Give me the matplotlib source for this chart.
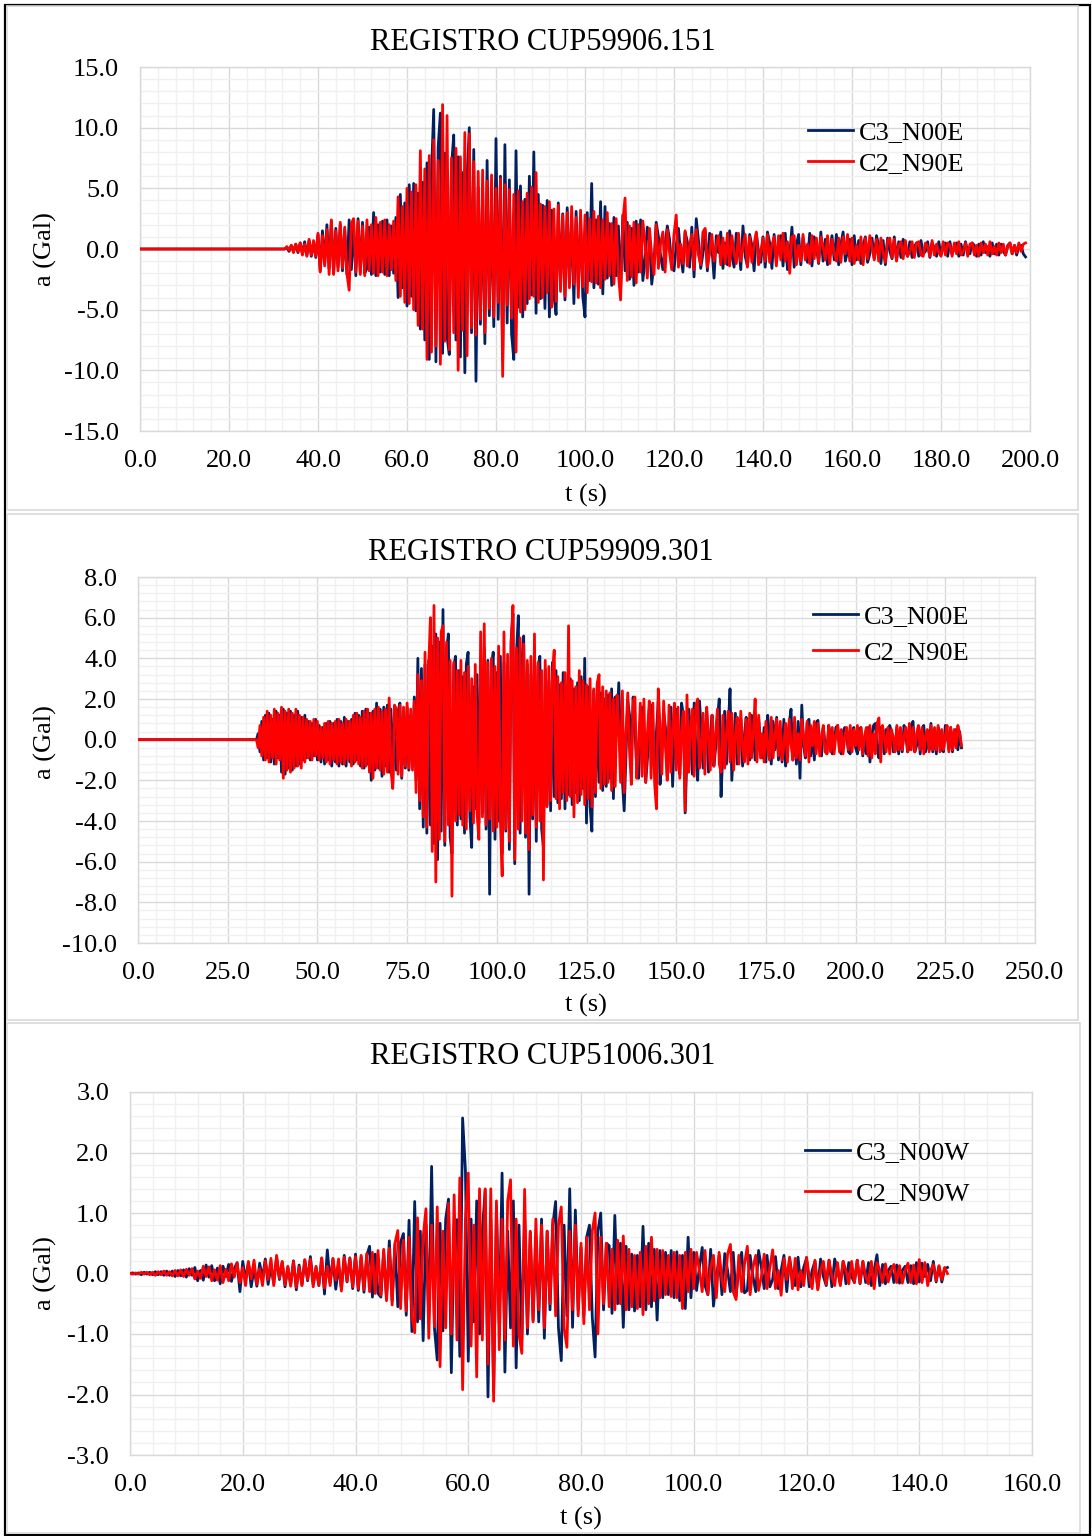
import numpy as np
import matplotlib
matplotlib.use("Agg")
import matplotlib.pyplot as plt
from matplotlib.patches import Rectangle
from matplotlib.ticker import MultipleLocator, FormatStrFormatter

plt.rcParams['font.family'] = ['Liberation Serif', 'DejaVu Serif']
plt.rcParams['axes.unicode_minus'] = False

# Sampling step of the digitised accelerograms (s)
DT = 0.5

# ---------------- Record CUP59906.151 (0 .. 199 s) ----------------
titulo_1 = "REGISTRO CUP59906.151"
nombres_1 = ["C3_N00E", "C2_N90E"]
c3_1 = [0.0] * 66 + [
    0.1, -0.2, 0.3, -0.2, 0.4, -0.3, 0.5, -0.4, 0.6, -0.5, 0.7, -0.6, 0.5, -0.7, 1.2, -1.8, 1.5, -1.2, 2.0, -1.6,
    2.3, -2.0, 1.7, -1.5, 2.0, -1.8, 1.6, -2.1, 2.4, -1.7, 1.9, -2.2, 2.5, -1.9, 2.2, -2.0, -1.6, 1.8, -2.1, 3.0,
    -2.2, 2.0, -1.9, 2.3, -2.1, 2.4, -2.2, 1.9, -2.0, 2.6, -4.0, 4.5, -3.2, 3.8, -4.7, 5.3, -3.9, 5.4, -5.1, 4.6,
    -6.6, 5.5, -7.5, 7.1, -9.1, 6.2, 11.5, -9.3, 8.4, 11.2, -8.6, 7.9, -7.2, -8.7, 6.8, 9.4, -7.5, 7.6, -8.9, 6.3,
    -10.2, 5.8, 10.0, -6.9, 8.2, -10.9, 5.1, -6.2, 4.8, -7.8, 7.3, -5.5, 4.2, -6.4, 9.1, -5.8, 6.0, -9.2, 8.6, -6.1,
    5.7, -7.0, -9.1, 8.1, -4.8, 5.2, -5.6, 4.1, -4.5, 6.0, -3.8, 8.0, -5.3, 4.5, -4.1, 3.6, -4.9, 4.0, -5.6, 3.2,
    -3.8, -5.4, 3.8, -3.1, 2.9, -4.2, 3.4, -2.8, 2.6, -4.5, 3.1, -3.3, 2.7, -3.9, -5.6, 3.0, -2.6, 5.4, -3.2, 2.4,
    -2.9, 3.9, -3.7, 3.5, -2.4, 2.1, -3.0, 2.6, -2.2, 1.9, -3.4, 2.8, -1.8, 2.2, -2.5, 1.7, -3.0, 2.3, -1.9, 2.4,
    -2.6, -0.8, 1.8, 0.6, -2.9, -1.1, 2.2, 1.0, -0.6, -1.7, 0.4, 1.9, 0.8, -1.5, -1.8, 0.3, 1.7, -0.5, -1.9, 1.4,
    0.6, -1.5, 1.8, -2.3, 2.5, 0.7, -1.6, -0.4, 1.5, -1.8, 1.3, 0.2, -2.4, 1.1, -0.3, 1.4, -1.6, 0.5, -1.3, 1.5,
    -0.5, -1.5, 1.3, 0.4, -1.7, 1.9, -0.6, -1.4, 1.2, 0.3, -1.8, 1.3, -0.2, -1.1, 1.0, -1.5, 1.4, 0.5, -1.6, 1.2,
    -1.0, 0.4, 1.1, -1.4, 1.3, -1.7, -0.5, 1.8, -1.5, 0.3, 1.2, -1.3, 0.9, -0.2, -1.1, 1.3, -1.4, 1.0, 0.2, -1.2,
    1.4, -1.0, 0.8, -1.3, -0.3, 1.1, -0.9, 1.2, -1.3, 0.4, 1.4, -1.0, -0.2, 0.8, -1.3, 1.1, -0.9, 0.7, -1.2, 0.3,
    1.0, -1.1, -0.4, 0.9, -0.8, 1.1, 0.3, -1.2, 0.7, -1.3, 0.9, -0.2, -0.8, 1.0, -0.9, 0.6, -0.7, 0.8, -0.2, -0.6,
    0.6, -0.7, 0.2, 0.5, -0.6, 0.7, -0.4, -0.2, 0.6, -0.7, 0.5, 0.1, -0.6, 0.6, -0.5, 0.3, 0.5, -0.6, 0.6, -0.4,
    0.1, 0.5, -0.6, 0.4, -0.5, 0.6, -0.2, -0.4, 0.5, 0.3, -0.6, 0.4, -0.5, 0.6, -0.3, 0.2, -0.6, 0.5, -0.4, 0.4,
    -0.5, 0.4, -0.2, -0.5, 0.3, 0.5, -0.4, 0.3, -0.5, 0.2, 0.3, -0.4, -0.65,
]
c2_1 = [0.0] * 66 + [
    0.2, -0.1, 0.3, -0.3, 0.4, -0.2, 0.5, -0.5, 0.4, -0.6, 0.8, -0.5, 0.7, -0.6, 1.3, -1.9, 1.1, -1.4, 1.6, -2.1,
    2.4, -2.1, 1.5, -1.8, 2.2, -1.6, 1.8, -2.0, -3.4, 2.1, 2.5, -1.9, 2.3, -2.1, 1.9, -2.2, 2.4, -1.8, 2.0, -2.0,
    2.6, -2.2, 2.2, -1.9, 2.4, -2.2, 2.0, -1.7, 2.3, -2.6, 4.3, -3.9, 3.5, -4.4, 5.0, -4.5, 4.7, -5.0, 5.3, -6.3,
    8.1, -6.6, 6.6, -9.1, 7.7, -8.5, 9.0, -8.0, 7.3, -9.5, 11.9, -7.6, 11.0, -8.3, 7.5, -6.9, 8.3, -10.0, 7.6, -6.7,
    9.6, -8.8, 9.5, -6.5, 7.2, -7.1, 6.4, -5.8, 6.5, -6.9, 5.6, -4.9, 6.1, -5.6, 5.0, -4.4, 5.8, -10.5, 5.3, -4.6,
    4.9, -5.7, 4.5, -8.5, 4.8, -5.2, 3.9, -5.0, 4.6, -4.1, 5.1, -3.9, 6.3, -4.4, 3.7, -4.0, 3.5, -3.6, 3.9, -4.8,
    3.3, -4.3, 3.6, -3.5, 2.8, -3.9, 3.0, -3.2, 3.5, -2.9, 2.6, -4.0, 3.2, -3.1, 2.8, -3.6, 2.5, -2.7, 3.1, -2.8,
    2.7, -3.2, 2.4, -2.5, 3.0, -2.2, 2.1, -2.9, 2.5, -2.0, -4.2, 2.3, 4.2, -2.6, 1.9, -2.3, 2.2, -2.8, 2.0, -1.9,
    2.3, 0.4, -2.4, 1.7, -0.6, -2.1, 2.0, -1.6, 0.5, 1.4, -1.9, 1.6, -0.3, -1.7, 1.2, 2.8, -1.5, 0.4, -1.2, 1.5,
    -1.4, 0.3, 1.2, -1.7, 1.6, -0.5, -1.3, 1.4, 1.7, -1.5, -0.4, 1.2, -1.0, 0.3, 1.1, -1.3, 0.9, -1.2, 1.3, -1.4,
    1.1, -0.3, -1.2, 1.3, -1.0, 0.2, 1.2, -1.5, 1.0, -1.1, 0.4, 1.4, -1.3, -0.2, 0.9, -1.0, 1.2, -1.1, 0.3, 1.0,
    -1.4, 1.1, -0.9, 1.3, -1.0, 0.6, -2.0, 1.0, 1.1, -1.3, 0.3, -1.0, 1.2, -0.9, 0.4, -1.2, 1.1, -0.8, 0.9, -1.1,
    1.0, 0.2, -0.9, 1.1, -1.2, 0.8, -0.3, -1.0, 0.9, -1.1, 1.0, -0.4, 1.2, -1.0, 0.9, -1.2, 0.3, -0.9, 1.0, -1.3,
    0.9, -0.8, 1.1, 0.2, -0.9, 0.8, -1.0, 0.9, -0.3, -1.1, 0.7, 0.9, -0.7, 0.8, -1.0, 0.3, 0.6, -0.8, 0.7, -0.6,
    -0.2, 0.6, -0.7, 0.5, 0.6, -0.5, -0.6, 0.5, 0.2, -0.6, 0.7, -0.5, 0.4, -0.3, -0.6, 0.6, -0.5, 0.5, 0.3, -0.6,
    0.5, -0.4, 0.6, -0.5, -0.2, 0.5, -0.6, 0.4, 0.5, -0.5, 0.3, -0.6, 0.5, -0.3, 0.4, -0.5, 0.6, -0.4, 0.2, -0.5,
    0.5, -0.3, 0.4, -0.5, 0.2, 0.5, -0.4, 0.3, -0.3, 0.5, -0.2, 0.4, 0.5,
]

# ---------------- Record CUP59909.301 (0 .. 229.5 s) ----------------
titulo_2 = "REGISTRO CUP59909.301"
nombres_2 = ["C3_N00E", "C2_N90E"]
c3_2 = [0.0] * 66 + [
    0.0, 0.3, -0.6, 0.9, -1.0, 1.2, -0.9, 1.3, -1.1, 1.0, -1.2, 1.4, -0.9, 1.2, -1.6, 1.5, -1.7, 1.3, -1.4, 1.4,
    -1.5, 1.2, -1.3, 1.4, -1.2, 1.1, -1.0, 1.2, -0.9, 0.9, -1.0, 0.8, -0.8, 1.0, -1.0, 0.7, -1.1, 0.6, -1.2, 0.8,
    -1.0, 0.9, -1.3, 0.8, -1.1, 1.0, -1.3, 0.9, -1.2, 1.1, -1.3, 0.9, -1.1, 1.0, -1.2, 1.3, -1.0, 1.2, -1.3, 1.4,
    -1.4, 1.5, -1.2, 1.3, -2.0, 1.4, -1.5, 1.8, -1.4, 1.5, -1.8, 1.6, -1.3, 1.7, -1.6, 1.5, -2.2, 1.6, -1.5, 1.4,
    1.8, -1.9, 1.3, -1.4, 1.6, -1.5, 1.2, -1.3, 2.1, -2.0, 4.0, -3.4, 3.5, -4.3, 3.7, -4.6, 3.9, -4.2, 4.6, -5.1,
    5.2, -5.9, 4.8, -4.5, 6.4, -5.2, 4.4, 5.2, -4.8, -5.6, 3.6, 4.1, -4.2, 3.4, -3.9, 3.1, -4.6, 3.7, 4.3, -3.8,
    -5.3, 2.6, -3.4, 3.2, -4.1, 4.0, -3.6, 4.5, -4.4, 3.9, -7.6, 3.5, 4.3, -4.9, 3.3, -4.0, 4.1, -5.6, 3.8, -4.5,
    3.6, -5.4, 4.9, 6.2, -6.1, 4.3, 6.1, -4.6, 3.9, 5.1, -4.8, 3.7, -7.6, 3.2, -3.9, 4.4, -5.0, 3.6, 4.1, -4.4,
    -5.3, 3.5, -3.2, 2.9, -3.5, 3.8, -2.8, 3.4, -3.1, 2.7, -2.9, 3.3, -3.4, 2.6, -2.7, 3.0, -3.2, 2.5, -2.6, 2.8,
    -3.0, 3.1, -2.4, 4.0, -4.1, 2.6, -3.3, -4.5, 2.4, -2.8, 2.7, -2.1, 2.3, -2.5, 2.0, -2.3, 2.2, -1.9, 2.5, -2.9,
    2.1, 0.6, 2.8, -0.4, -2.0, -3.5, -0.8, 1.9, 1.2, -1.0, 2.1, 0.5, -1.4, -1.9, 0.3, 1.6, -0.2, -2.1, -0.9, 1.5,
    1.7, -0.6, -1.6, 0.4, 1.9, -2.2, -0.7, 1.4, 0.6, -1.8, -0.4, 1.6, -2.3, 0.5, 1.5, -0.9, -1.7, 1.8, 1.2, -3.6,
    -0.8, 1.5, 0.3, -1.7, 1.8, -0.5, -2.0, 1.9, 0.4, -1.4, -0.2, 1.4, -1.6, 0.2, 1.2, -1.3, -0.4, 1.1, 2.0, -2.8,
    -0.6, 1.4, -1.2, 0.5, 2.5, -2.0, -0.3, 1.3, -1.2, 0.4, 1.0, -1.3, 0.2, 1.1, -0.9, -1.0, 1.2, 0.3, -1.0, 0.8,
    1.0, -0.2, -0.9, 0.6, -1.1, 1.2, 0.1, -1.2, 0.9, -0.5, 1.1, -1.0, 0.4, -1.1, 1.0, -1.3, -0.2, 0.8, 1.5, -1.0,
    0.6, -1.2, 0.9, -1.9, 1.7, -0.3, -0.9, 0.8, 1.0, -0.8, 0.3, -1.0, 0.8, 0.95, -0.4, -0.8, 0.6, -0.2, -0.7, 0.7,
    0.2, -0.7, -0.3, 0.6, 0.7, -0.5, -0.7, 0.4, 0.6, 0.2, -0.6, -0.7, 0.3, 0.6, -0.4, -0.7, 0.5, 0.6, -0.8, 0.1,
    -0.7, 0.6, -1.1, 0.2, 0.7, 0.8, -0.4, -0.9, 0.6, 0.2, -0.7, 0.5, -0.3, 0.7, 0.4, -0.6, -0.5, 0.6, -0.7, 0.3,
    -0.6, 0.7, 0.2, -0.6, -0.4, 0.7, 0.9, -0.6, -0.3, 0.6, -0.7, 0.5, 0.7, -0.6, 0.2, -0.5, 0.8, -0.6, 0.3, -0.7,
    0.6, 0.3, -0.5, -0.6, 0.7, 0.2, -0.5, 0.6, -0.6, 0.4, 0.5, -0.5, 0.4, -0.4,
]
c2_2 = [0.0] * 66 + [
    0.0, -0.4, 0.7, -0.8, 1.1, -1.0, 1.4, -1.1, 1.2, -0.9, 1.5, -1.2, 1.3, -1.0, 1.6, -1.9, 1.4, -1.5, 1.5, -1.6,
    1.3, -1.4, 1.5, -1.3, 1.2, -1.4, 1.1, -1.1, 1.0, -0.9, 0.9, -1.0, 1.0, -0.8, 0.9, -1.0, 0.6, -0.9, 0.8, -1.1,
    0.9, -1.2, 0.8, -1.0, 0.9, -1.2, 1.0, -1.1, 0.8, -1.2, 1.0, -1.0, 0.9, -1.3, 1.2, -1.1, 1.3, -1.2, 1.1, -1.4,
    1.4, -1.3, 1.5, -1.6, 1.3, -1.9, 1.5, -1.4, 1.6, -1.5, 1.4, -1.7, 1.5, -1.6, 2.05, -1.5, -2.4, 1.7, 1.5, -1.7,
    1.7, -1.8, 1.6, -1.3, 1.8, -1.4, 1.5, -1.5, 1.9, -2.6, 3.2, -3.0, 2.9, -3.8, 4.3, -4.3, 3.5, 6.0, -5.5, 6.6,
    -7.0, 5.0, -4.9, 5.3, 5.6, -5.0, 4.8, -4.2, 3.9, -7.7, 3.8, -4.0, 3.4, -3.7, 3.9, -4.2, 3.3, -4.4, 3.6, -3.5,
    3.0, -4.1, 3.7, -3.6, -4.9, 5.3, -3.8, 5.7, -4.2, 3.8, -3.9, 4.0, -4.5, 3.6, -4.3, 4.6, -4.0, -6.7, 5.3, -4.4,
    4.2, -5.0, 4.7, 6.6, -5.9, 4.5, -4.4, 5.0, -4.0, 4.7, -4.6, 3.9, -5.4, 4.1, -3.7, 5.2, -4.3, 3.8, -4.0, 3.4,
    -6.9, 3.9, -3.3, 3.6, -3.0, 3.2, 4.4, -2.9, 3.1, -3.4, 2.8, -2.6, 3.3, -3.0, 5.6, -2.8, 2.9, -3.8, 2.6, -3.1,
    3.4, -2.7, 2.9, -3.2, 2.7, -2.9, 3.0, -3.3, 2.5, -2.6, 2.8, 3.2, -2.4, 2.6, -2.2, 2.4, -2.1, 2.3, -2.5, 2.0,
    -2.3, 2.2, 0.5, -2.1, 2.4, -2.6, 0.3, 2.3, -0.6, -2.2, 1.9, 2.1, -1.9, -0.4, 1.8, -1.8, 2.0, -2.1, 0.4, 1.9,
    -1.9, 1.8, -2.2, -3.4, 2.5, 0.6, -1.7, 1.9, -0.3, -2.0, 1.7, -1.6, 0.5, 1.8, -1.5, 1.6, -1.9, 0.4, 1.4, -3.5,
    2.2, -1.6, 0.6, 1.5, -1.8, 1.7, 2.0, -1.4, -0.5, 1.3, -1.7, 1.6, 0.2, -1.5, 1.2, -1.3, 0.4, 1.5, -1.2, -1.6,
    1.2, -1.4, 0.3, 1.4, -1.1, 1.3, -1.5, 0.2, 1.1, -1.2, 1.4, -0.3, -1.1, 1.0, -1.2, 1.3, -0.9, 0.4, 2.0, -1.1,
    1.2, -0.9, 0.3, -1.1, 0.9, -0.4, -1.0, 1.1, -0.9, 0.2, 1.0, -0.8, 0.9, -1.0, -0.3, 0.8, -1.1, 1.0, -0.2, -1.0,
    1.1, -0.9, 0.3, -1.0, 1.0, 0.2, -0.8, 0.9, -1.1, 0.7, -0.3, 0.9, -0.7, 0.8, -0.8, 0.2, 0.7, -0.6, -0.7, 0.7,
    -0.6, 0.6, -0.7, 0.2, 0.7, -0.6, 0.5, -0.7, 0.1, 0.6, -0.5, 0.7, -0.6, 0.5, -0.3, 0.7, -0.5, 0.6, -0.7, 0.2,
    0.6, -0.8, 0.7, -0.9, 0.3, -0.7, 0.8, 1.07, -1.1, 0.7, 0.2, -0.6, 0.6, -0.7, 0.5, 0.1, -0.6, 0.7, -0.5, 0.6,
    -0.5, 0.2, 0.6, -0.6, 0.8, -0.5, 0.6, -0.6, 0.3, 0.7, -0.5, 0.6, -0.7, 0.2, 0.5, -0.6, 0.7, -0.5, 0.6, -0.5,
    0.7, -0.6, 0.5, -0.5, 0.2, 0.7, -0.6, 0.6, -0.5, 0.5, -0.4, 0.7, 0.3, -0.3,
]

# ---------------- Record CUP51006.301 (0 .. 145 s) ----------------
titulo_3 = "REGISTRO CUP51006.301"
nombres_3 = ["C3_N00W", "C2_N90W"]
c3_3 = [
    0.0, 0.01, -0.01, 0.01, -0.02, 0.02, -0.01, 0.02, -0.02, 0.03, -0.02, 0.03, -0.03, 0.04, -0.03, 0.04, -0.05, 0.05, -0.04, 0.06,
    -0.06, 0.08, -0.03, 0.10, -0.12, 0.05, -0.11, 0.14, -0.06, 0.13, -0.12, 0.09, -0.17, 0.12, -0.05, 0.15, -0.13, 0.08, 0.18, -0.30,
    0.20, -0.10, 0.18, -0.22, 0.08, -0.21, 0.17, -0.08, 0.24, -0.18, 0.12, -0.16, 0.27, -0.10, 0.19, -0.22, 0.10, -0.18, 0.21, -0.27,
    0.14, -0.19, 0.22, -0.12, 0.28, -0.18, 0.10, -0.20, 0.25, -0.34, 0.39, -0.15, 0.24, -0.26, 0.12, -0.25, 0.30, -0.14, 0.26, -0.25,
    0.32, -0.28, 0.27, -0.31, 0.30, 0.45, -0.39, 0.32, -0.33, -0.39, 0.36, -0.42, 0.54, -0.45, 0.48, -0.55, 0.52, 0.66, -0.69, 0.88,
    -0.96, 1.19, -0.80, 0.70, -1.11, 0.80, -0.75, 1.77, -0.90, -1.43, 0.83, -0.95, 0.90, 1.23, -1.64, 0.75, 0.89, -1.37, 2.57, 1.70,
    -1.45, 0.90, -0.80, 1.20, -1.00, 0.70, 1.38, -2.04, 0.90, -1.95, 1.10, -0.80, 1.66, -1.63, 0.70, -0.90, 1.20, -1.56, 0.80, -1.10,
    0.90, -1.00, 0.68, -0.77, 0.60, -0.80, 0.90, -1.07, 0.70, -0.60, 0.80, 1.19, -0.90, -1.44, 0.80, -0.70, 1.40, -0.89, 1.05, -0.60,
    0.43, -0.70, 0.60, 0.80, -0.72, -1.38, 0.70, 1.00, -0.60, 0.50, 0.46, -0.66, 0.96, -0.50, 0.50, -0.89, 0.45, -0.60, 0.32, -0.62,
    0.30, -0.55, 0.78, -0.60, 0.50, -0.55, 0.40, -0.77, 0.38, -0.40, 0.35, -0.35, 0.38, -0.40, 0.36, -0.45, 0.30, -0.58, 0.60, -0.40,
    0.35, -0.28, 0.10, 0.43, -0.20, -0.35, 0.40, -0.54, -0.10, 0.30, -0.35, 0.33, 0.05, -0.30, 0.35, -0.38, 0.10, 0.35, -0.32, -0.28,
    0.30, -0.05, -0.30, 0.38, 0.10, -0.25, 0.30, -0.22, -0.10, 0.28, -0.25, 0.05, 0.30, -0.30, 0.25, -0.05, -0.20, 0.27, -0.22, 0.10,
    0.25, -0.22, 0.05, 0.20, -0.25, 0.24, -0.05, -0.20, 0.22, -0.22, 0.24, 0.05, -0.18, 0.20, -0.17, 0.18, -0.05, -0.15, 0.22, -0.17,
    0.20, -0.15, 0.18, -0.20, 0.05, 0.31, -0.20, 0.15, -0.17, 0.05, 0.12, -0.15, 0.14, -0.16, 0.05, 0.12, -0.15, 0.13, -0.17, 0.18,
    -0.14, 0.17, -0.05, 0.15, -0.12, 0.20, -0.14, 0.12, -0.14, 0.08, 0.10,
]
c2_3 = [
    0.0, -0.01, 0.01, -0.01, 0.02, -0.01, 0.02, -0.02, 0.02, -0.03, 0.03, -0.02, 0.04, -0.03, 0.03, -0.04, 0.05, -0.04, 0.06, -0.05,
    0.07, -0.03, 0.08, -0.09, 0.04, -0.08, 0.12, -0.05, 0.11, -0.12, 0.06, -0.11, 0.13, -0.15, 0.07, -0.12, 0.16, -0.06, 0.17, -0.15,
    0.10, -0.20, 0.20, -0.09, 0.22, -0.18, 0.08, -0.20, 0.21, -0.10, 0.25, -0.20, 0.30, -0.08, 0.20, -0.19, 0.12, -0.21, 0.20, -0.23,
    0.11, -0.20, 0.23, -0.10, 0.24, -0.22, 0.12, -0.19, 0.26, -0.24, 0.12, -0.20, 0.25, -0.11, 0.24, -0.29, 0.27, -0.13, 0.25, -0.22,
    0.28, -0.25, 0.30, -0.27, 0.33, -0.30, 0.35, -0.33, 0.38, -0.36, 0.40, -0.45, 0.42, -0.52, 0.50, 0.71, -0.58, 0.55, -0.62, 0.60,
    -0.70, -0.98, 0.92, -0.75, 0.60, 1.07, -1.07, 0.80, -0.88, 1.10, -1.54, 0.70, -0.90, 1.16, -1.00, 1.30, -1.10, 1.58, -1.92, 0.90,
    1.66, -1.20, 0.80, -1.71, 1.40, -1.10, 1.40, -1.50, 1.40, -2.11, 1.20, -1.26, 0.90, -1.10, 1.20, 1.55, -1.20, 0.90, -1.00, -1.32,
    1.39, -0.90, 0.70, -0.80, 0.90, -0.60, 0.80, -0.90, 0.70, -0.50, 0.90, -0.70, 0.80, 1.10, -0.90, -1.22, 0.70, -0.60, 0.80, -0.70,
    0.50, -0.83, 0.60, -0.60, 0.70, 1.00, -1.00, 0.60, -0.50, 0.50, -0.55, 0.40, -0.60, 0.55, -0.50, 0.62, -0.60, 0.40, -0.55, 0.30,
    -0.58, 0.35, -0.68, 0.45, -0.50, 0.60, -0.45, 0.40, -0.40, 0.38, -0.35, 0.30, -0.38, 0.35, -0.40, 0.30, -0.58, 0.35, -0.30, 0.40,
    -0.25, 0.35, 0.05, -0.30, 0.38, -0.35, 0.10, 0.30, -0.40, 0.35, -0.10, -0.30, 0.32, 0.48, -0.30, -0.43, 0.30, -0.30, 0.15, 0.45,
    -0.35, 0.10, 0.30, -0.28, -0.05, 0.32, -0.25, 0.10, 0.39, -0.25, 0.05, -0.36, 0.25, -0.10, 0.27, -0.25, 0.25, -0.27, 0.05, -0.20,
    0.27, -0.05, -0.25, 0.22, -0.27, 0.05, 0.20, -0.18, 0.22, -0.05, -0.20, 0.18, -0.20, 0.20, 0.05, -0.17, 0.20, -0.15, 0.22, -0.16,
    0.20, -0.05, -0.17, 0.20, -0.25, 0.18, 0.05, -0.15, 0.16, -0.14, 0.05, 0.15, -0.15, 0.13, -0.16, 0.05, 0.17, -0.15, 0.14, -0.17,
    0.23, -0.15, 0.18, -0.20, 0.05, 0.15, -0.12, 0.13, -0.10, 0.10, 0.00,
]

# Axis settings per record: x limits/major/minor, y limits/major/minor
ejes_x = [(0, 200, 20, 4), (0, 250, 25, 5), (0, 160, 20, 4)]
ejes_y = [(-15, 15, 5, 1), (-10, 8, 2, 0.4), (-3, 3, 1, 0.2)]

AZUL = "#002060"
ROJO = "#FF0000"
GRIS_MAYOR = "#D9D9D9"
GRIS_MENOR = "#F0F0F0"
FS = 19

W, H = 1092, 1536
fig = plt.figure(figsize=(W / 100, H / 100), dpi=100)


def px_rect(l, t, r, b):
    return [l / W, 1 - b / H, (r - l) / W, (b - t) / H]


# Outer frame and chart-area borders
fig.patches.append(Rectangle((5 / W, 1 - 1535 / H), 1085 / W, 1530 / H, transform=fig.transFigure,
                             fill=False, edgecolor="black", linewidth=1.6, zorder=0))
for (l, t, r, b) in [(7, 6, 1078, 510), (7, 514, 1078, 1020), (7, 1023, 1080, 1533)]:
    fig.patches.append(Rectangle((l / W, 1 - b / H), (r - l) / W, (b - t) / H, transform=fig.transFigure,
                                 fill=False, edgecolor=GRIS_MAYOR, linewidth=1.2, zorder=0))

paneles = [
    dict(rect=(140, 67, 1030, 431), titulo=titulo_1, series=(c3_1, c2_1), nombres=nombres_1,
         title_xy=(543, 42), xlab_xy=(586, 495), ylab_xy=(45, 249), leg=(808, 121), lsp=0.26),
    dict(rect=(138, 577, 1035, 943), titulo=titulo_2, series=(c3_2, c2_2), nombres=nombres_2,
         title_xy=(541, 552), xlab_xy=(586, 1005), ylab_xy=(45, 742), leg=(813, 605), lsp=0.45),
    dict(rect=(130, 1092, 1032, 1455), titulo=titulo_3, series=(c3_3, c2_3), nombres=nombres_3,
         title_xy=(543, 1057), xlab_xy=(581, 1518), ylab_xy=(45, 1273), leg=(805, 1141), lsp=0.64),
]

for i, p in enumerate(paneles):
    l, t, r, b = p["rect"]
    ax = fig.add_axes(px_rect(l, t, r, b))
    x0, x1, xmaj, xmin = ejes_x[i]
    y0, y1, ymaj, ymin = ejes_y[i]

    a_c3, a_c2 = p["series"]
    tiempo_c3 = np.arange(len(a_c3)) * DT
    tiempo_c2 = np.arange(len(a_c2)) * DT
    ax.plot(tiempo_c3, a_c3, color=AZUL, lw=2.0, solid_joinstyle="round", label=p["nombres"][0], zorder=3)
    ax.plot(tiempo_c2, a_c2, color=ROJO, lw=2.0, solid_joinstyle="round", label=p["nombres"][1], zorder=4)

    ax.set_xlim(x0, x1)
    ax.set_ylim(y0, y1)
    ax.xaxis.set_major_locator(MultipleLocator(xmaj))
    ax.xaxis.set_minor_locator(MultipleLocator(xmin))
    ax.yaxis.set_major_locator(MultipleLocator(ymaj))
    ax.yaxis.set_minor_locator(MultipleLocator(ymin))
    ax.xaxis.set_major_formatter(FormatStrFormatter("%.1f"))
    ax.yaxis.set_major_formatter(FormatStrFormatter("%.1f"))
    ax.grid(which="minor", color=GRIS_MENOR, lw=1.0, zorder=0)
    ax.grid(which="major", color=GRIS_MAYOR, lw=1.0, zorder=1)
    ax.set_axisbelow(True)
    ax.tick_params(which="both", length=0, labelsize=FS)
    ax.tick_params(axis="x", pad=13.5)
    ax.tick_params(axis="y", pad=15)
    for s in ax.spines.values():
        s.set_color(GRIS_MAYOR)
        s.set_linewidth(1.0)

    wpx, hpx = r - l, b - t
    ax.set_xlabel("t (s)", fontsize=FS, va="center")
    ax.xaxis.set_label_coords((p["xlab_xy"][0] - l) / wpx, (b - p["xlab_xy"][1]) / hpx)
    ax.set_ylabel("a (Gal)", fontsize=FS, va="center")
    ax.yaxis.set_label_coords((p["ylab_xy"][0] - l) / wpx, (b - p["ylab_xy"][1]) / hpx)

    fig.text(p["title_xy"][0] / W, 1 - p["title_xy"][1] / H, p["titulo"], fontsize=22,
             ha="center", va="center")

    lx, ly = p["leg"]
    ax.legend(loc="upper left", bbox_to_anchor=((lx - l) / wpx, (b - ly) / hpx), frameon=False,
              fontsize=FS, borderpad=0, borderaxespad=0, handlelength=1.7, handletextpad=0.23,
              labelspacing=p["lsp"])

fig.savefig("out.png", dpi=100)
